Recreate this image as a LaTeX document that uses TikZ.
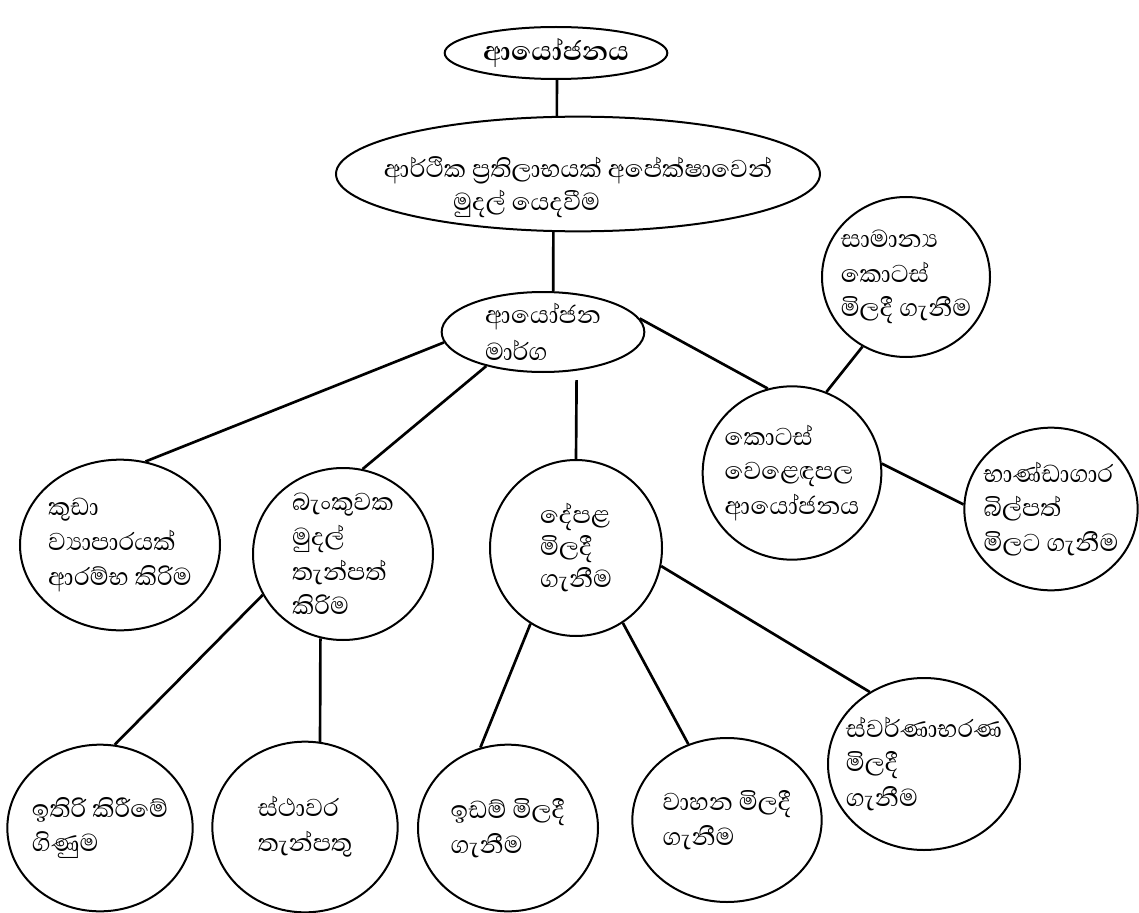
\documentclass[tikz,border=0pt]{standalone}
\usepackage{fontspec}
\newfontfamily\sinhala[Script=Sinhala]{Abhaya Libre}
\usetikzlibrary{shapes.geometric}

\begin{document}
\begin{tikzpicture}[x=0.75pt,y=-0.75pt,
  bubble/.style={ellipse,draw,line width=1.5pt,inner sep=-40pt,align=left,
    font=\sinhala\fontsize{23.5}{26}\selectfont},
  link/.style={line width=2pt}]
 \useasboundingbox (0,0) rectangle (1139,913);

 \node[bubble,minimum width=167pt,minimum height=39pt,
   font=\sinhala\bfseries\fontsize{25.5}{28}\selectfont] (top) at (556,53) {ආයෝජනය};
 \node[bubble,minimum width=363pt,minimum height=86pt,
   font=\sinhala\fontsize{23.5}{25}\selectfont] (goal) at (578,174)
   {\rule{0pt}{1.5em}ආර්ථික ප්^^^^200dරතිලාභයක් අපේක්ෂාවෙන්\\\hspace*{52pt}මුදල් යෙදවීම};
 \node[bubble,minimum width=152pt,minimum height=60pt,
   font=\sinhala\fontsize{23.5}{28}\selectfont] (mid) at (543,332) {ආයෝජන\\මාර්ග};

 \node[bubble,minimum width=126pt,minimum height=120pt] (samanya) at (906,277) {සාමාන්^^^^200dය\\කොටස්\\මිලදී ගැනීම};
 \node[bubble,minimum width=134pt,minimum height=130pt] (kotas) at (792,473) {කොටස්\\වෙළෙඳපල\\ආයෝජනය};
 \node[bubble,minimum width=130pt,minimum height=122pt] (bhanda) at (1051,509) {භාණ්ඩාගාර\\බිල්පත්\\මිලට ගැනීම};

 \node[bubble,minimum width=150pt,minimum height=128pt] (kuda) at (120,545) {කුඩා\\ව්^^^^200dයාපාරයක්\\ආරම්භ කිරිම};
 \node[bubble,minimum width=135pt,minimum height=129pt] (banku) at (343,554) {බැංකුවක\\මුදල්\\තැන්පත්\\කිරිම};
 \node[bubble,minimum width=129pt,minimum height=132pt,
   font=\sinhala\fontsize{23.5}{24}\selectfont] (depala) at (576,548) {දේපළ\\මිලදී\\ගැනීම};

 \node[bubble,minimum width=139pt,minimum height=125pt] (ithiri) at (100,828) {ඉතිරි කිරීමේ\\ගිණුම};
 \node[bubble,minimum width=139pt,minimum height=128pt] (sthavara) at (305,827) {ස්ථාවර\\තැන්පතු};
 \node[bubble,minimum width=135pt,minimum height=125pt] (idam) at (508,828) {ඉඩම් මිලදී\\ගැනීම};
 \node[bubble,minimum width=142pt,minimum height=123pt] (vahana) at (727,820) {වාහන මිලදී\\ගැනීම};
 \node[bubble,minimum width=144pt,minimum height=129pt] (svarna) at (924,764) {ස්වර්ණාභරණ\\මිලදී\\ගැනීම};

 \draw[link] (top.-88) -- (goal.110);
 \draw[link] (goal.247) -- (mid.76);
 \draw[link] (mid.186) -- (kuda.73);
 \draw[link] (mid.211) -- (banku.77);
 \draw[link,shorten <=7pt] (mid.-49) -- (depala.north);
 \draw[link] (mid.8) -- (kotas.106);
 \draw[link] (samanya.238) -- (kotas.67);
 \draw[link] (kotas.6) -- (bhanda.177);
 \draw[link] (banku.207) -- (ithiri.80);
 \draw[link] (banku.255) -- (sthavara.80);
 \draw[link] (depala.239) -- (idam.109);
 \draw[link] (depala.-58) -- (vahana.117);
 \draw[link] (depala.-12) -- (svarna.127);
\end{tikzpicture}
\end{document}
